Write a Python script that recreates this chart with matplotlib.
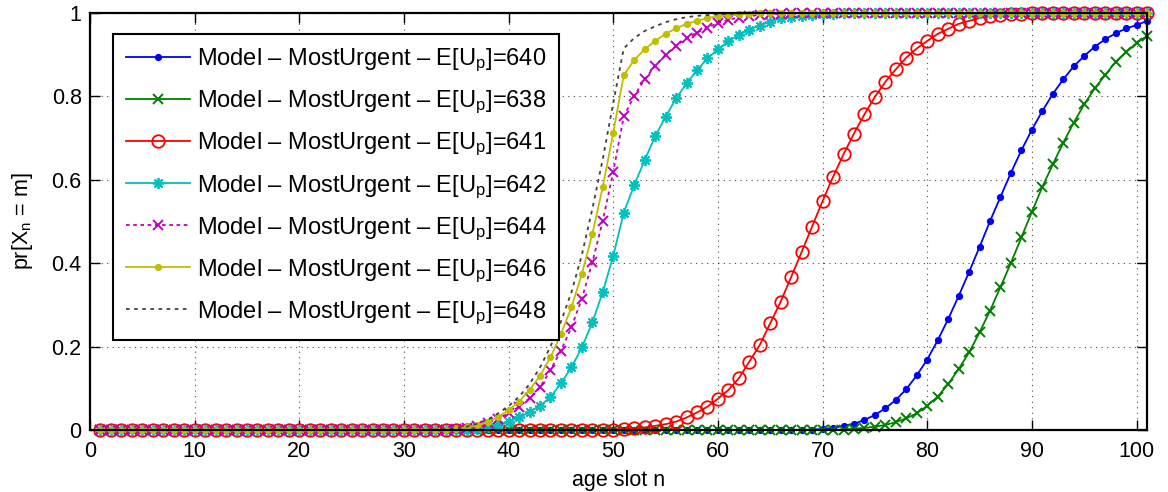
import matplotlib
matplotlib.use("Agg")
import matplotlib.pyplot as plt

# font setup, close to the MATLAB Helvetica look
plt.rcParams["font.family"] = ["Liberation Sans", "DejaVu Sans"]
plt.rcParams["font.size"] = 15.5
plt.rcParams["mathtext.fontset"] = "custom"
plt.rcParams["mathtext.rm"] = "Liberation Sans"
plt.rcParams["mathtext.it"] = "Liberation Sans:italic"

# age slots 1..101
age_slot = list(range(1, 102))

# E[U_p]=640
p640 = [0, 0, 0, 0, 0, 0, 0, 0, 0, 0,
        0, 0, 0, 0, 0, 0, 0, 0, 0, 0,
        0, 0, 0, 0, 0, 0, 0, 0, 0, 0,
        0, 0, 0, 0, 0, 0, 0, 0, 0, 0,
        0, 0, 0, 0, 0, 0, 0, 0, 0, 0,
        0, 0, 0, 0, 0, 0, 0, 0, 0, 0,
        0, 0, 0, 0, 0, 0, 0, 0, 0.001, 0.002,
        0.005, 0.010, 0.015, 0.024, 0.036, 0.052, 0.072, 0.098, 0.131, 0.169,
        0.215, 0.266, 0.321, 0.379, 0.439, 0.501, 0.559, 0.617, 0.671, 0.720,
        0.765, 0.806, 0.841, 0.872, 0.897, 0.919, 0.937, 0.951, 0.963, 0.971,
        0.981]
# E[U_p]=638
p638 = [0, 0, 0, 0, 0, 0, 0, 0, 0, 0,
        0, 0, 0, 0, 0, 0, 0, 0, 0, 0,
        0, 0, 0, 0, 0, 0, 0, 0, 0, 0,
        0, 0, 0, 0, 0, 0, 0, 0, 0, 0,
        0, 0, 0, 0, 0, 0, 0, 0, 0, 0,
        0, 0, 0, 0, 0, 0, 0, 0, 0, 0,
        0, 0, 0, 0, 0, 0, 0, 0, 0, 0,
        0, 0.001, 0.003, 0.005, 0.008, 0.012, 0.019, 0.028, 0.040, 0.058,
        0.080, 0.110, 0.146, 0.186, 0.234, 0.286, 0.343, 0.401, 0.462, 0.523,
        0.583, 0.637, 0.689, 0.737, 0.781, 0.819, 0.851, 0.883, 0.906, 0.928,
        0.945]
# E[U_p]=641
p641 = [0, 0, 0, 0, 0, 0, 0, 0, 0, 0,
        0, 0, 0, 0, 0, 0, 0, 0, 0, 0,
        0, 0, 0, 0, 0, 0, 0, 0, 0, 0,
        0, 0, 0, 0, 0, 0, 0, 0, 0, 0,
        0, 0, 0, 0, 0, 0, 0, 0, 0, 0.001,
        0.002, 0.004, 0.006, 0.010, 0.014, 0.020, 0.030, 0.042, 0.056, 0.075,
        0.096, 0.124, 0.164, 0.204, 0.256, 0.308, 0.367, 0.427, 0.488, 0.549,
        0.607, 0.661, 0.711, 0.757, 0.799, 0.835, 0.865, 0.893, 0.915, 0.933,
        0.950, 0.962, 0.974, 0.981, 0.988, 0.992, 0.995, 0.997, 0.998, 0.999,
        1, 1, 1, 1, 1, 1, 1, 1, 1, 1,
        1]
# E[U_p]=642
p642 = [0, 0, 0, 0, 0, 0, 0, 0, 0, 0,
        0, 0, 0, 0, 0, 0, 0, 0, 0, 0,
        0, 0, 0, 0, 0, 0, 0, 0, 0, 0,
        0, 0, 0, 0, 0, 0.001, 0.003, 0.006, 0.012, 0.020,
        0.030, 0.043, 0.058, 0.079, 0.112, 0.150, 0.198, 0.258, 0.331, 0.418,
        0.521, 0.587, 0.647, 0.704, 0.751, 0.795, 0.831, 0.863, 0.891, 0.913,
        0.932, 0.947, 0.960, 0.970, 0.979, 0.987, 0.990, 0.993, 0.995, 0.997,
        0.998, 0.999, 1, 1, 1, 1, 1, 1, 1, 1,
        1, 1, 1, 1, 1, 1, 1, 1, 1, 1,
        1, 1, 1, 1, 1, 1, 1, 1, 1, 1,
        1]
# E[U_p]=644
p644 = [0, 0, 0, 0, 0, 0, 0, 0, 0, 0,
        0, 0, 0, 0, 0, 0, 0, 0, 0, 0,
        0, 0, 0, 0, 0, 0, 0, 0, 0, 0,
        0, 0, 0, 0, 0.002, 0.005, 0.009, 0.016, 0.027, 0.040,
        0.056, 0.076, 0.102, 0.144, 0.190, 0.246, 0.315, 0.402, 0.502, 0.619,
        0.752, 0.801, 0.841, 0.873, 0.900, 0.921, 0.940, 0.953, 0.965, 0.976,
        0.984, 0.989, 0.993, 0.995, 0.997, 0.998, 0.999, 1, 1, 1,
        1, 1, 1, 1, 1, 1, 1, 1, 1, 1,
        1, 1, 1, 1, 1, 1, 1, 1, 1, 1,
        1, 1, 1, 1, 1, 1, 1, 1, 1, 1,
        1]
# E[U_p]=646
p646 = [0, 0, 0, 0, 0, 0, 0, 0, 0, 0,
        0, 0, 0, 0, 0, 0, 0, 0, 0, 0,
        0, 0, 0, 0, 0, 0, 0, 0, 0, 0,
        0, 0, 0, 0.001, 0.003, 0.006, 0.011, 0.019, 0.030, 0.048,
        0.068, 0.096, 0.130, 0.174, 0.230, 0.294, 0.374, 0.470, 0.583, 0.713,
        0.851, 0.887, 0.913, 0.933, 0.950, 0.963, 0.974, 0.981, 0.988, 0.992,
        0.995, 0.997, 0.998, 0.999, 1, 1, 1, 1, 1, 1,
        1, 1, 1, 1, 1, 1, 1, 1, 1, 1,
        1, 1, 1, 1, 1, 1, 1, 1, 1, 1,
        1, 1, 1, 1, 1, 1, 1, 1, 1, 1,
        1]
# E[U_p]=648
p648 = [0, 0, 0, 0, 0, 0, 0, 0, 0, 0,
        0, 0, 0, 0, 0, 0, 0, 0, 0, 0,
        0, 0, 0, 0, 0, 0, 0, 0, 0, 0,
        0, 0, 0.001, 0.002, 0.004, 0.008, 0.015, 0.025, 0.040, 0.057,
        0.080, 0.110, 0.150, 0.200, 0.260, 0.330, 0.420, 0.530, 0.650, 0.785,
        0.915, 0.940, 0.957, 0.968, 0.978, 0.985, 0.990, 0.993, 0.995, 0.997,
        0.998, 0.999, 1, 1, 1, 1, 1, 1, 1, 1,
        1, 1, 1, 1, 1, 1, 1, 1, 1, 1,
        1, 1, 1, 1, 1, 1, 1, 1, 1, 1,
        1, 1, 1, 1, 1, 1, 1, 1, 1, 1,
        1]

labels = ["640", "638", "641", "642", "644", "646", "648"]

W, H = 1168, 492
fig = plt.figure(figsize=(W / 100, H / 100), dpi=100)
ax = fig.add_axes([90 / W, (H - 430) / H, (1147 - 90) / W, (430 - 13) / H])

def lab(v):
    return r"Model – MostUrgent – E[U$_\mathrm{p}$]=" + v

lw = 1.3
kw = dict(lw=lw, clip_on=False)
ax.plot(age_slot, p640, "-", color=(0, 0, 1), marker="o", ms=4.2, label=lab(labels[0]), **kw)
ax.plot(age_slot, p638, "-", color=(0, 0.5, 0), marker="x", ms=6.5, mew=1.4, label=lab(labels[1]), **kw)
ax.plot(age_slot, p641, "-", color=(1, 0, 0), marker="o", ms=9, mfc="none", mew=1.3, label=lab(labels[2]), **kw)
ax.plot(age_slot, p642, "-", color=(0, 0.75, 0.75), marker=(8, 2, 0), ms=8, mew=1.3, label=lab(labels[3]), **kw)
ax.plot(age_slot, p644, color=(0.75, 0, 0.75), ls=(0, (2, 2)), marker="x", ms=6.5, mew=1.4, label=lab(labels[4]), **kw)
ax.plot(age_slot, p646, "-", color=(0.75, 0.75, 0), marker="o", ms=4.2, label=lab(labels[5]), **kw)
ax.plot(age_slot, p648, color=(0.25, 0.25, 0.25), ls=(0, (2, 2.5)), label=lab(labels[6]), **kw)

ax.set_xlim(0, 101)
ax.set_ylim(0, 1)
ax.set_xticks(range(0, 101, 10))
ax.set_yticks([0, 0.2, 0.4, 0.6, 0.8, 1])
ax.set_yticklabels(["0", "0.2", "0.4", "0.6", "0.8", "1"])
ax.grid(True, color="k", lw=0.8, ls=(0, (1, 4)), alpha=0.7)
ax.tick_params(direction="in", top=True, right=True, length=7, width=1)
ax.tick_params(axis="x", pad=8)
ax.tick_params(axis="y", pad=6)
for s in ax.spines.values():
    s.set_linewidth(1.6)
    s.set_zorder(3)

ax.set_xlabel("age slot n", labelpad=6)
ax.set_ylabel(r"pr[X$_\mathrm{n}$ = m]", labelpad=12)

leg = ax.legend(loc="upper left", bbox_to_anchor=((113 - 90) / (1147 - 90), 1 - (34 - 13) / (430 - 13)),
                borderaxespad=0, fancybox=False, framealpha=1, edgecolor="k", fontsize=17,
                handlelength=2.7, handletextpad=0.3, labelspacing=0.62, borderpad=0.55)
leg.get_frame().set_linewidth(1.5)
leg.set_zorder(5)

fig.savefig("out.png", dpi=100)
